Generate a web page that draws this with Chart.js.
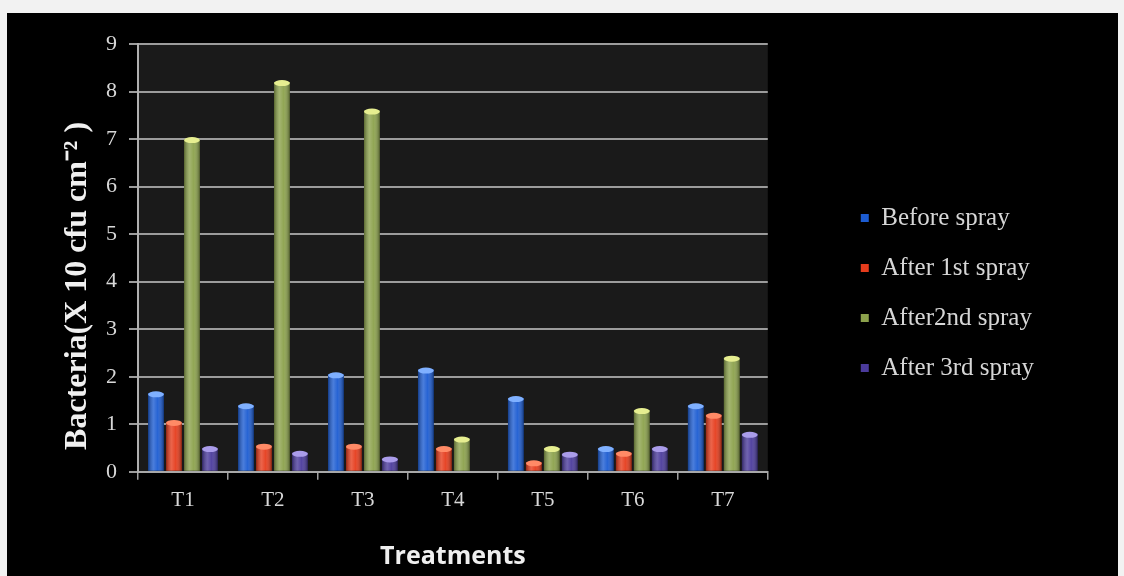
<!DOCTYPE html>
<html>
<head>
<meta charset="utf-8">
<title>Bacteria counts by treatment</title>
<script src="https://cdn.jsdelivr.net/npm/chart.js@4.4.0/dist/chart.umd.min.js"></script>
<style>
    body { margin: 0; background: #f2f2f2; width: 1124px; height: 576px; overflow: hidden; }
    #panel { position: absolute; left: 7px; top: 13px; width: 1111px; height: 563px; background: #000; }
</style>
</head>
<body>
<div id="panel"><canvas id="bacteriaChart"></canvas></div>
<script>
const treatments = ['T1', 'T2', 'T3', 'T4', 'T5', 'T6', 'T7'];
const beforeSpray = [1.65, 1.4, 2.05, 2.15, 1.55, 0.5, 1.4];
const afterFirstSpray = [1.05, 0.55, 0.55, 0.5, 0.2, 0.4, 1.2];
const afterSecondSpray = [7.0, 8.2, 7.6, 0.7, 0.5, 1.3, 2.4];
const afterThirdSpray = [0.5, 0.4, 0.28, 0, 0.38, 0.5, 0.8];
const yTicks = [0, 1, 2, 3, 4, 5, 6, 7, 8, 9];

const serif = 'Liberation Serif, Times New Roman, serif';
const capColors = ['#7fb0ff', '#ff8a66', '#e6ee90', '#aa9cea'];
// trailing no-break spaces push the rotated axis title toward the bottom
const yTitle = 'Bacteria(X 10 cfu cm\u207B\u00B2 )' + '\u00A0'.repeat(7);

// dark fill behind the plotting area
const plotBackground = {
    id: 'plotBackground',
    beforeDraw(chart) {
        const { ctx, chartArea: a } = chart;
        ctx.save();
        ctx.fillStyle = '#1a1a1a';
        ctx.fillRect(a.left, a.top, a.right - a.left, a.bottom - a.top);
        ctx.restore();
    }
};

// lift the legend block a little above the canvas centre
const legendLift = {
    id: 'legendLift',
    afterLayout(chart) {
        const l = chart.legend;
        if (!l) return;
        l.top -= 17;
        l.bottom -= 17;
    }
};

// rounded shading and a light cap on every bar
const barShading = {
    id: 'barShading',
    afterDatasetsDraw(chart) {
        const ctx = chart.ctx;
        chart.data.datasets.forEach((ds, di) => {
            const meta = chart.getDatasetMeta(di);
            meta.data.forEach((el, i) => {
                if (!ds.data[i]) return;
                const { x, y, base, width } = el.getProps(['x', 'y', 'base', 'width'], true);
                const left = x - width / 2;
                const g = ctx.createLinearGradient(left, 0, left + width, 0);
                g.addColorStop(0, 'rgba(0,0,0,0.35)');
                g.addColorStop(0.35, 'rgba(255,255,255,0.2)');
                g.addColorStop(0.6, 'rgba(255,255,255,0.05)');
                g.addColorStop(1, 'rgba(0,0,0,0.4)');
                ctx.save();
                ctx.fillStyle = g;
                ctx.fillRect(left, y, width, base - y);
                ctx.fillStyle = capColors[di];
                ctx.beginPath();
                ctx.ellipse(x, y + 1, width / 2, 3, 0, 0, Math.PI * 2);
                ctx.fill();
                ctx.restore();
            });
        });
    }
};

const ctx = document.getElementById('bacteriaChart').getContext('2d');
new Chart(ctx, {
    type: 'bar',
    data: {
        labels: treatments,
        datasets: [
            { label: 'Before spray', data: beforeSpray, backgroundColor: '#1c5cd2' },
            { label: 'After 1st spray', data: afterFirstSpray, backgroundColor: '#e63c1c' },
            { label: 'After2nd spray', data: afterSecondSpray, backgroundColor: '#8ca24c' },
            { label: 'After 3rd spray', data: afterThirdSpray, backgroundColor: '#4b3b9c' }
        ]
    },
    options: {
        responsive: true,
        maintainAspectRatio: false,
        animation: false,
        layout: { padding: { left: 55, top: 31, right: 74, bottom: 0 } },
        datasets: {
            bar: { categoryPercentage: 0.8, barPercentage: 0.88 }
        },
        scales: {
            x: {
                grid: { display: true, drawOnChartArea: false, color: '#a0a0a0', lineWidth: 1.5, tickLength: 8 },
                border: { color: '#a8a8a8', width: 2 },
                ticks: { color: '#d8d8d8', font: { family: serif, size: 21 }, padding: 8 },
                title: {
                    display: true,
                    text: 'Treatments',
                    color: '#efefef',
                    font: { family: 'Open Sans, Lato, sans-serif', weight: 'bold', size: 25 },
                    padding: { top: 21, bottom: 4 }
                }
            },
            y: {
                min: 0,
                max: 9,
                afterBuildTicks(scale) { scale.ticks = yTicks.map(v => ({ value: v })); },
                grid: { color: '#9c9c9c', lineWidth: 2, tickLength: 9 },
                border: { color: '#b0b0b0', width: 2 },
                ticks: { color: '#d8d8d8', font: { family: serif, size: 22 }, padding: 12 },
                title: {
                    display: true,
                    text: yTitle,
                    color: '#f0f0f0',
                    font: { family: serif, weight: 'bold', size: 32, lineHeight: 1 },
                    padding: { top: 0, bottom: 0 }
                }
            },
            yRight: {
                type: 'linear',
                position: 'right',
                grid: { display: false },
                border: { display: false },
                ticks: { display: false },
                afterFit(scale) { scale.width = 68; }
            }
        },
        plugins: {
            legend: {
                position: 'right',
                maxWidth: 300,
                labels: {
                    color: '#d6d6d6',
                    font: { family: serif, size: 25 },
                    boxWidth: 8,
                    boxHeight: 8,
                    padding: 25
                }
            },
            tooltip: { enabled: false }
        }
    },
    plugins: [plotBackground, legendLift, barShading]
});
</script>
</body>
</html>
